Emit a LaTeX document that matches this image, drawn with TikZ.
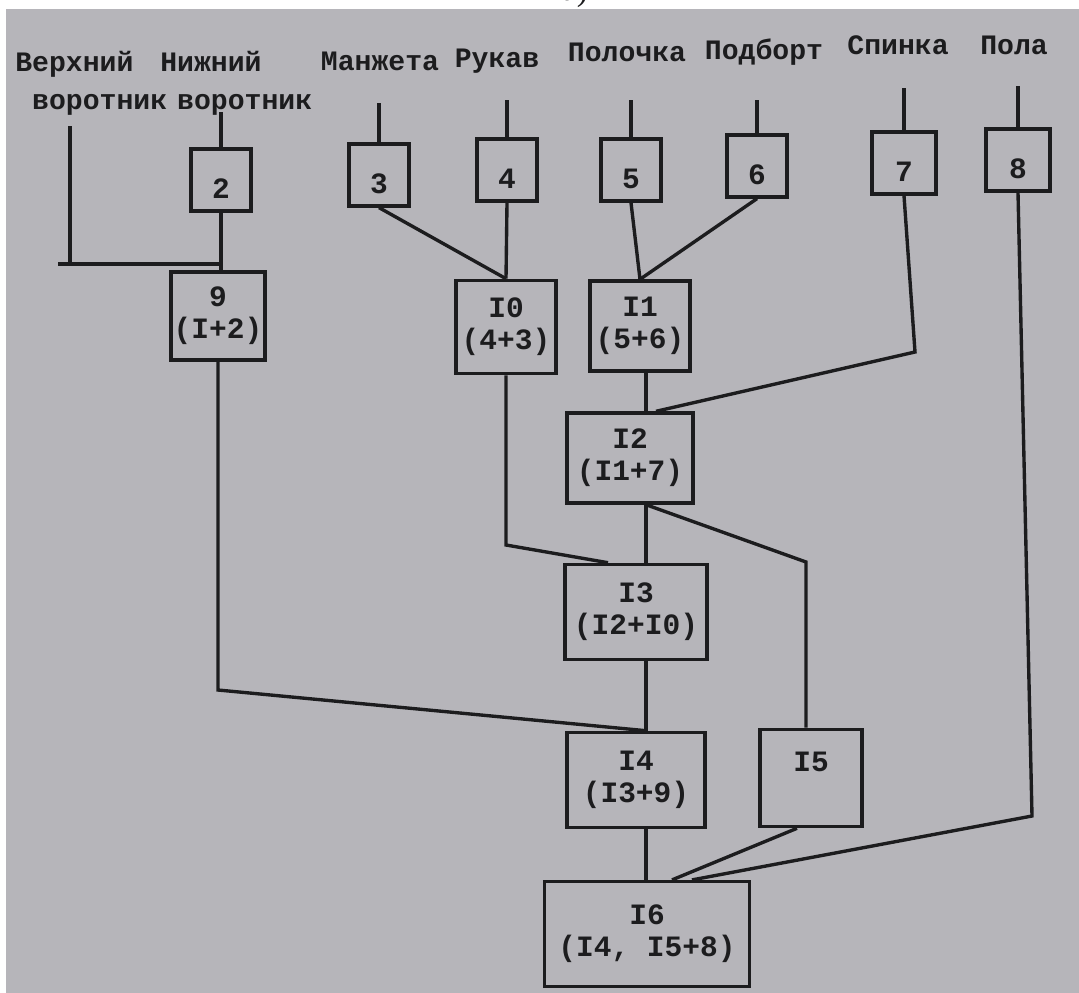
\documentclass[tikz,border=0pt]{standalone}
\usepackage{fontspec}
\setmainfont{Liberation Serif}
\newfontfamily\typefont{Liberation Mono}
\definecolor{paper}{RGB}{182,181,186}
\definecolor{ink}{RGB}{28,28,30}

\tikzset{
  wire/.style={draw=ink, line width=2.4pt},
  part/.style={draw=ink, line width=2.4pt, text=ink, minimum width=1.5cm,
    inner ysep=1.5pt, text height=34pt, text depth=7pt,
    font=\typefont\bfseries\fontsize{21}{23}\selectfont},
  unit/.style={draw=ink, line width=2.4pt, text=ink, align=center, inner sep=2pt,
    font=\typefont\bfseries\fontsize{21}{23}\selectfont},
  tag/.style={text=ink, inner sep=0pt, align=left,
    font=\typefont\bfseries\fontsize{20}{27}\selectfont}
}

\begin{document}
\begin{tikzpicture}[x=0.025cm,y=-0.025cm]
  \fill[white] (0,0) rectangle (1079,993);
  \fill[paper] (6,9) rectangle (1079,993);
  \useasboundingbox (0,0) rectangle (1079,993);
  \node[anchor=base, text=ink, font=\fontsize{24}{26}\selectfont] (cap) at (575,1) {а)};

  % parts of the coat
  \node[tag, anchor=base west] (n1) at (15,109) {Верхний\\\hspace*{.6em}воротник};
  \node[tag, anchor=base west] (n2) at (160,109) {Нижний\\\hspace*{.6em}воротник};
  \node[tag, anchor=base] (n3) at (380,70) {Манжета};
  \node[tag, anchor=base] (n4) at (497,67) {Рукав};
  \node[tag, anchor=base] (n5) at (627,61) {Полочка};
  \node[tag, anchor=base] (n6) at (764,59) {Подборт};
  \node[tag, anchor=base] (n7) at (898,54) {Спинка};
  \node[tag, anchor=base] (n8) at (1014,54) {Пола};

  \node[part] (b2) at (221,180) {2};
  \node[part] (b3) at (379,175) {3};
  \node[part] (b4) at (507,170) {4};
  \node[part] (b5) at (631,170) {5};
  \node[part] (b6) at (757,166) {6};
  \node[part, minimum width=1.6cm] (b7) at (904,163) {7};
  \node[part, minimum width=1.6cm] (b8) at (1018,160) {8};

  % assembly units
  \node[unit, minimum width=2.35cm, minimum height=2.2cm] (b9) at (218,316) {9\\(I+2)};
  \node[unit, minimum width=2.5cm, minimum height=2.33cm] (b10) at (506,327) {I0\\(4+3)};
  \node[unit, minimum width=2.5cm, minimum height=2.25cm] (b11) at (640,326) {I1\\(5+6)};
  \node[unit, minimum width=3.15cm, minimum height=2.25cm] (b12) at (630,458) {I2\\(I1+7)};
  \node[unit, minimum width=3.55cm, minimum height=2.38cm] (b13) at (636,612) {I3\\(I2+I0)};
  \node[unit, minimum width=3.45cm, minimum height=2.38cm] (b14) at (636,780) {I4\\(I3+9)};
  \node[unit, minimum width=2.55cm, minimum height=2.43cm] (b15) at (811,778) {I5\\\mbox{}};
  \node[unit, minimum width=5.12cm, minimum height=2.62cm] (b16) at (647,934) {I6\\(I4, I5+8)};

  \coordinate (trunk) at (646,0);
  \coordinate (x12) at (656,0);
  \coordinate (x13) at (608,0);
  \coordinate (x16a) at (672,0);
  \coordinate (x16b) at (692,0);

  % inputs
  \coordinate (t1) at (70,126);
  \coordinate (j1) at (70,264);
  \coordinate (s1) at (58,264);
  \draw[wire] (t1) -- (j1);
  \draw[wire] (s1) -- (b2.south |- j1);
  \foreach \n/\t in {2/112,3/103,4/100,5/100,6/100,7/88,8/86}{
    \coordinate (t\n) at (b\n.north |- 0,\t);
    \draw[wire] (t\n) -- (b\n.north);
  }

  % assembly
  \draw[wire] (b2.south) -- (b2.south |- b9.north);
  \draw[wire] (b3.south) -- (b10.north);
  \draw[wire] (b4.south) -- (b10.north);
  \draw[wire] (b5.south) -- (b11.north);
  \draw[wire] (b6.south) -- (b11.north);
  \coordinate (k7) at (915,352);
  \draw[wire] (b7.south) -- (k7) -- (b12.north -| x12);
  \draw[wire] (b11.south -| trunk) -- (b12.north -| trunk);
  \draw[wire] (b12.south -| trunk) -- (b13.north -| trunk);
  \coordinate (k10) at (506,545);
  \draw[wire] (b10.south) -- (k10) -- (b13.north -| x13);
  \coordinate (k12) at (806,562);
  \draw[wire] (b12.south -| trunk) -- (k12) -- (k12 |- b15.north);
  \coordinate (k9) at (218,690);
  \draw[wire] (b9.south) -- (k9) -- (b14.north -| trunk);
  \draw[wire] (b13.south -| trunk) -- (b14.north -| trunk);
  \draw[wire] (b14.south -| trunk) -- (b16.north -| trunk);
  \draw[wire] ([xshift=-0.35cm]b15.south) -- (b16.north -| x16a);
  \coordinate (k8) at (1032,816);
  \draw[wire] (b8.south) -- (k8) -- (b16.north -| x16b);
\end{tikzpicture}
\end{document}
